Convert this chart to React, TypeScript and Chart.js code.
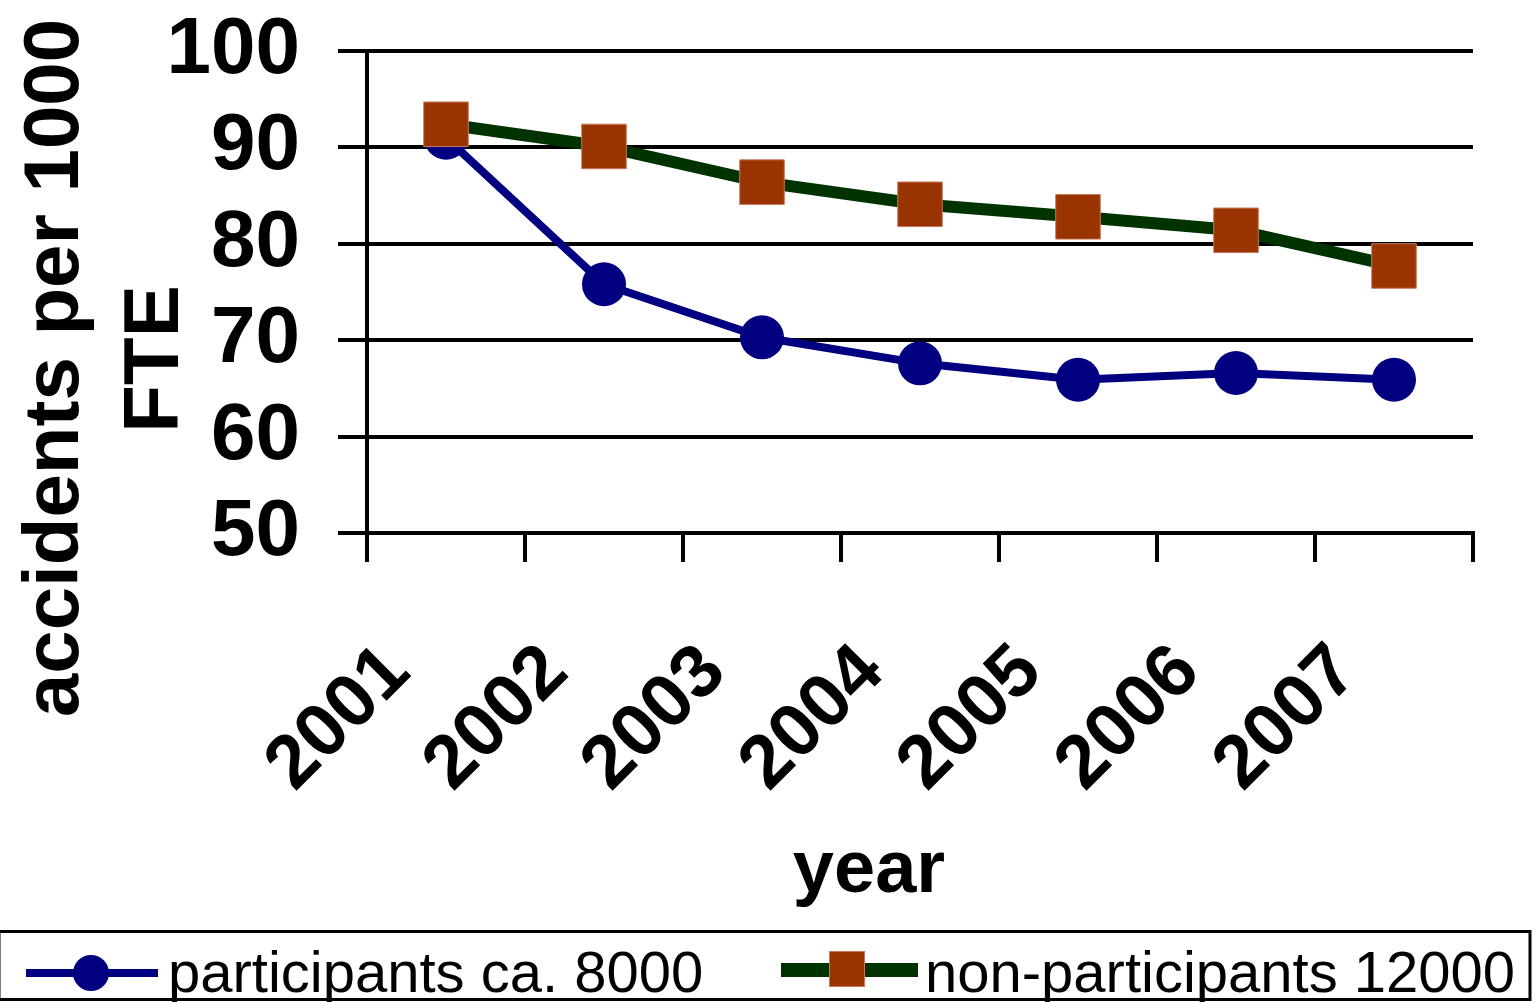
import React, { useEffect, useRef } from "react";
import { Chart, registerables } from "chart.js";

Chart.register(...registerables);

// Accident rates per 1000 FTE, by year
const years = ["2001", "2002", "2003", "2004", "2005", "2006", "2007"];
const participants = [91.0, 75.8, 70.3, 67.6, 65.9, 66.6, 65.9];
const nonParticipants = [92.4, 90.1, 86.4, 84.1, 82.8, 81.4, 77.7];
const seriesLabels = ["participants ca. 8000", "non-participants 12000"];
const yTitleLines = ["accidents per 1000", "FTE"];
const xTitle = "year";
const yMin = 50;
const yMax = 100;
const yStep = 10;

const FONT = "'Liberation Sans', Arial, Helvetica, sans-serif";
const NAVY = "#000080";
const DARK_GREEN = "#003300";
const RUST = "#993300";

const CANVAS_W = 1537;
const CANVAS_H = 1002;
// fixed frame for the plot: y-axis band width and x-axis band height
const Y_AXIS_BAND = 200;
const X_AXIS_BAND = 469;

// Axis titles and the framed legend are painted on the canvas after the chart.
const titlesAndLegend = {
  id: "titlesAndLegend",
  afterDraw(chart: any) {
    const { ctx } = chart;
    ctx.save();
    ctx.fillStyle = "#000";

    // y-axis title, two rotated lines
    ctx.font = `bold 78px ${FONT}`;
    ctx.textAlign = "center";
    ctx.textBaseline = "alphabetic";
    const yTitleBaselines = [78, 178];
    const yTitleCenters = [368, 359];
    yTitleLines.forEach((line, i) => {
      ctx.save();
      ctx.translate(yTitleBaselines[i], yTitleCenters[i]);
      ctx.rotate(-Math.PI / 2);
      ctx.fillText(line, 0, 0);
      ctx.restore();
    });

    // x-axis title
    ctx.font = `bold 74px ${FONT}`;
    ctx.fillText(xTitle, 869, 892);

    // legend frame
    ctx.lineWidth = 3;
    ctx.strokeStyle = "#000";
    ctx.strokeRect(-1, 931.5, 1531, 68);

    // legend entries: line sample with marker, then label
    const ds = chart.data.datasets;
    ctx.font = `58px ${FONT}`;
    ctx.textAlign = "left";

    // participants
    ctx.strokeStyle = ds[0].borderColor;
    ctx.lineWidth = 8;
    ctx.beginPath();
    ctx.moveTo(26, 973);
    ctx.lineTo(158, 973);
    ctx.stroke();
    ctx.fillStyle = ds[0].pointBackgroundColor;
    ctx.beginPath();
    ctx.arc(91, 973, 18, 0, Math.PI * 2);
    ctx.fill();
    ctx.fillStyle = "#000";
    ctx.fillText(ds[0].label, 168, 992);

    // non-participants
    ctx.strokeStyle = ds[1].borderColor;
    ctx.lineWidth = 14;
    ctx.beginPath();
    ctx.moveTo(781, 970);
    ctx.lineTo(918, 970);
    ctx.stroke();
    ctx.fillStyle = ds[1].pointBackgroundColor;
    ctx.fillRect(829, 951, 36, 36);
    ctx.strokeStyle = ds[1].pointBorderColor;
    ctx.lineWidth = 1;
    ctx.strokeRect(829.5, 951.5, 35, 35);
    ctx.fillStyle = "#000";
    ctx.fillText(ds[1].label, 925, 992);

    ctx.restore();
  },
};

export default function App() {
  const canvasRef = useRef<HTMLCanvasElement | null>(null);

  useEffect(() => {
    document.body.style.margin = "0";
    const canvas = canvasRef.current;
    if (!canvas) return;

    const chart = new Chart(canvas, {
      type: "line",
      data: {
        labels: years,
        datasets: [
          {
            label: seriesLabels[0],
            data: participants,
            borderColor: NAVY,
            backgroundColor: NAVY,
            borderWidth: 8,
            pointStyle: "circle",
            pointRadius: 22,
            pointHoverRadius: 22,
            pointBackgroundColor: NAVY,
            pointBorderColor: NAVY,
            pointBorderWidth: 0,
            tension: 0,
            order: 1,
          },
          {
            label: seriesLabels[1],
            data: nonParticipants,
            borderColor: DARK_GREEN,
            backgroundColor: RUST,
            borderWidth: 12,
            pointStyle: "rect",
            pointRadius: 31.5,
            pointHoverRadius: 31.5,
            pointBackgroundColor: RUST,
            pointBorderColor: "#c8795a",
            pointBorderWidth: 1,
            tension: 0,
            order: 0,
          },
        ],
      },
      options: {
        responsive: false,
        animation: false,
        events: [],
        clip: false as any,
        layout: {
          padding: { left: 167, right: 64, top: 51, bottom: 0 },
        },
        plugins: {
          legend: { display: false },
          tooltip: { enabled: false },
          title: { display: false },
        },
        scales: {
          x: {
            type: "category",
            offset: true,
            afterFit: (scale: any) => {
              scale.height = X_AXIS_BAND;
              scale.paddingLeft = 0;
              scale.paddingRight = 0;
            },
            grid: {
              offset: true,
              drawOnChartArea: true,
              drawTicks: true,
              tickLength: 29,
              lineWidth: 4,
              color: (c: any) => (c.index === years.length ? "#000" : "rgba(0,0,0,0)"),
              tickColor: "#000",
              tickWidth: 4,
            },
            border: { display: true, color: "#000", width: 4 },
            ticks: {
              autoSkip: false,
              maxRotation: 45,
              minRotation: 45,
              padding: 66,
              labelOffset: -48,
              color: "#000",
              font: { family: FONT, size: 75, weight: "bold" },
            },
          },
          y: {
            min: yMin,
            max: yMax,
            afterFit: (scale: any) => {
              scale.width = Y_AXIS_BAND;
              scale.paddingTop = 0;
              scale.paddingBottom = 0;
            },
            grid: {
              drawOnChartArea: true,
              drawTicks: true,
              tickLength: 29,
              lineWidth: 4,
              color: "#000",
              tickColor: "#000",
            },
            border: { display: true, color: "#000", width: 4 },
            ticks: {
              autoSkip: false,
              stepSize: yStep,
              padding: 38,
              color: "#000",
              font: { family: FONT, size: 80, weight: "bold" },
            },
          },
        },
      },
      plugins: [titlesAndLegend],
    });

    return () => chart.destroy();
  }, []);

  return (
    <div style={{ position: "relative", width: CANVAS_W, height: CANVAS_H, background: "#fff" }}>
      <canvas ref={canvasRef} width={CANVAS_W} height={CANVAS_H} style={{ display: "block" }} />
    </div>
  );
}
